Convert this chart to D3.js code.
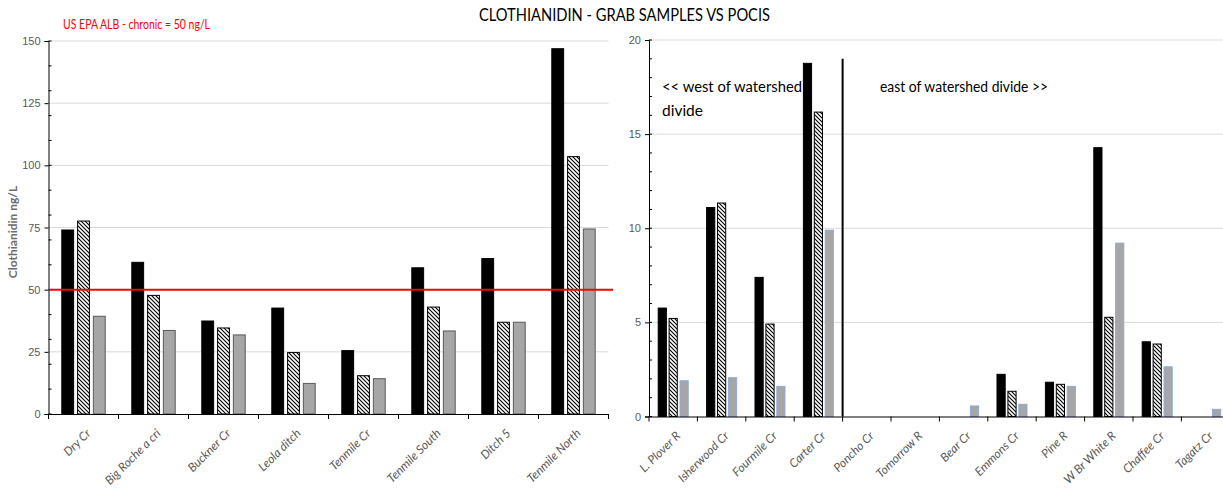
<!DOCTYPE html>
<html>
<head>
<meta charset="utf-8">
<script src="https://cdn.jsdelivr.net/npm/d3@7"></script>
<style>
  body { margin: 0; background: #fff; }
  svg { display: block; font-family: Lato, "Liberation Sans", sans-serif; }
</style>
</head>
<body>
<div id="chart"></div>
<script>
// left panel: sites (ng/L)
var leftSites = ["Dry Cr", "Big Roche a cri", "Buckner Cr", "Leola ditch", "Tenmile Cr", "Tenmile South", "Ditch 5", "Tenmile North"];
var leftGrab   = [74.0, 61.0, 37.4, 42.6, 25.5, 58.8, 62.5, 146.9];
var leftPocis1 = [77.6, 47.7, 34.6, 24.7, 15.4, 43.0, 36.9, 103.5];
var leftPocis2 = [39.3, 33.6, 31.8, 12.3, 14.2, 33.4, 36.9, 74.4];
var leftTicks  = [0, 25, 50, 75, 100, 125, 150];
var epaChronic = 50;

// right panel: sites (ng/L)
var rightSites = ["L. Plover R", "Isherwood Cr", "Fourmile Cr", "Carter Cr", "Poncho Cr", "Tomorrow R", "Bear Cr", "Emmons Cr", "Pine R", "W Br White R", "Chaffee Cr", "Tagatz Cr"];
var rightGrab   = [5.76, 11.1, 7.39, 18.76, 0, 0, 0, 2.24, 1.82, 14.28, 3.97, 0];
var rightPocis1 = [5.21, 11.34, 4.91, 16.17, 0, 0, 0, 1.34, 1.71, 5.27, 3.85, 0];
var rightPocis2 = [1.9, 2.06, 1.6, 9.9, 0, 0, 0.56, 0.65, 1.6, 9.21, 2.64, 0.38];
var rightTicks  = [0, 5, 10, 15, 20];
var divideSite = "Poncho Cr", divideTop = 19;

var W = 1223, H = 494;
var svg = d3.select("#chart").append("svg").attr("width", W).attr("height", H);

var defs = svg.append("defs");
defs.append("pattern")
    .attr("id", "hatch")
    .attr("patternUnits", "userSpaceOnUse")
    .attr("width", 4).attr("height", 4)
  .call(function(p){
    p.append("rect").attr("width", 4).attr("height", 4).attr("fill", "#fff");
    p.append("path").attr("d", "M-1,-1 L5,5 M-1,3 L1,5 M3,-1 L5,1")
     .attr("stroke", "#000").attr("stroke-width", 1.1);
  });

// narrow Calibri-like text: keep the reference widths
svg.append("text")
   .attr("x", 479).attr("y", 21)
   .attr("textLength", 291).attr("lengthAdjust", "spacingAndGlyphs")
   .style("font-size", "16.5px")
   .attr("fill", "#000")
   .text("CLOTHIANIDIN - GRAB SAMPLES VS POCIS");

function panel(cfg){
  var g = svg.append("g");
  var x = d3.scaleBand().domain(cfg.sites).range([cfg.x0, cfg.x1]);
  var y = d3.scaleLinear().domain(cfg.domain).range([cfg.y0, cfg.y1]);
  var sub = d3.scaleBand().domain([0, 1, 2])
    .range([x.bandwidth() * 0.19, x.bandwidth() * 0.81]).paddingInner(0.25);

  // gridlines
  g.selectAll(".grid").data(cfg.ticks.slice(1)).enter().append("line")
    .attr("x1", cfg.x0).attr("x2", cfg.gridEnd)
    .attr("y1", function(d){ return y(d); }).attr("y2", function(d){ return y(d); })
    .attr("stroke", "#d9d9d9").attr("stroke-width", 1);

  // bars
  var series = [
    {vals: cfg.grab,  fill: "#000",          stroke: "#000"},
    {vals: cfg.pocis1, fill: "url(#hatch)",  stroke: "#000"},
    {vals: cfg.pocis2, fill: "#a6a6a6",      stroke: cfg.grayStroke}
  ];
  series.forEach(function(s, k){
    var rows = cfg.sites.map(function(site, i){ return {site: site, v: s.vals[i]}; })
                        .filter(function(r){ return r.v > 0; });
    g.selectAll(".bar" + k).data(rows).enter().append("rect")
      .attr("x", function(r){ return x(r.site) + sub(k); })
      .attr("width", sub.bandwidth())
      .attr("y", function(r){ return y(r.v); })
      .attr("height", function(r){ return y(0) - y(r.v); })
      .attr("fill", s.fill)
      .attr("stroke", s.stroke)
      .attr("stroke-width", 1);
  });

  // y axis
  var yAxis = d3.axisLeft(y).tickValues(cfg.ticks).tickSize(4).tickPadding(4);
  var ya = g.append("g").attr("transform", "translate(" + cfg.x0 + ",0)").call(yAxis);
  ya.select(".domain").attr("stroke", "#000");
  ya.selectAll(".tick line").attr("stroke", "#000");
  ya.selectAll("text").attr("fill", "#595959").style("font-size", "11px");
  g.selectAll(".minor").data(d3.range(cfg.domain[0], cfg.domain[1] + 0.001, cfg.minor)).enter()
    .append("line")
    .attr("x1", cfg.x0).attr("x2", cfg.x0 + 3)
    .attr("y1", function(d){ return y(d); }).attr("y2", function(d){ return y(d); })
    .attr("stroke", "#000");

  // x axis
  var xAxis = d3.axisBottom(x).tickSize(0).tickFormat("");
  var xa = g.append("g").attr("transform", "translate(0," + cfg.y0 + ")").call(xAxis);
  xa.select(".domain").attr("stroke", "#000");
  g.selectAll(".xt").data(cfg.sites.concat([null])).enter().append("line")
    .attr("x1", function(d, i){ return cfg.x0 + i * x.step(); })
    .attr("x2", function(d, i){ return cfg.x0 + i * x.step(); })
    .attr("y1", cfg.y0).attr("y2", cfg.y0 + 5)
    .attr("stroke", "#000");
  g.selectAll(".xl").data(cfg.sites).enter().append("text")
    .attr("transform", function(d){
      return "translate(" + (x(d) + x.bandwidth() / 2 + 5) + "," + (cfg.y0 + 17) + ") rotate(-45)";
    })
    .attr("text-anchor", "end")
    .attr("dy", "0.35em")
    .style("font-size", "12px")
    .style("font-style", "italic")
    .attr("fill", "#595959")
    .text(function(d){ return d; });

  return {g: g, x: x, y: y};
}

var L = panel({
  sites: leftSites, grab: leftGrab, pocis1: leftPocis1, pocis2: leftPocis2,
  ticks: leftTicks, domain: [0, 150], minor: 10,
  x0: 48.5, x1: 608.5, y0: 414, y1: 41, gridEnd: 608.5, grayStroke: "#595959"
});

// EPA chronic benchmark
L.g.append("line")
  .attr("x1", 49).attr("x2", 613)
  .attr("y1", L.y(epaChronic)).attr("y2", L.y(epaChronic))
  .attr("stroke", "#ff0000").attr("stroke-width", 2);
svg.append("text")
  .attr("x", 63).attr("y", 29)
  .attr("textLength", 147).attr("lengthAdjust", "spacingAndGlyphs")
  .style("font-size", "13px")
  .attr("fill", "#ff0000")
  .text("US EPA ALB - chronic = 50 ng/L");

svg.append("text")
  .attr("transform", "translate(17,232) rotate(-90)")
  .attr("text-anchor", "middle")
  .style("font-size", "12px")
  .style("font-weight", "bold")
  .attr("fill", "#6d6d6d")
  .text("Clothianidin ng/L");

var R = panel({
  sites: rightSites, grab: rightGrab, pocis1: rightPocis1, pocis2: rightPocis2,
  ticks: rightTicks, domain: [0, 20], minor: 1,
  x0: 649, x1: 1229.8, y0: 416.5, y1: 40, gridEnd: 1223, grayStroke: "#8faadc"
});

// watershed divide
R.g.append("line")
  .attr("x1", R.x(divideSite)).attr("x2", R.x(divideSite))
  .attr("y1", R.y(divideTop)).attr("y2", R.y(0))
  .attr("stroke", "#000").attr("stroke-width", 2);

var west = svg.append("text").attr("x", 662).attr("y", 92)
  .style("font-size", "15.5px").attr("fill", "#000");
west.append("tspan").attr("textLength", 140).attr("lengthAdjust", "spacingAndGlyphs")
  .text("<< west of watershed");
west.append("tspan").attr("x", 662).attr("dy", 24).text("divide");
svg.append("text").attr("x", 880).attr("y", 92)
  .attr("textLength", 168).attr("lengthAdjust", "spacingAndGlyphs")
  .style("font-size", "15.5px").attr("fill", "#000")
  .text("east of watershed divide >>");
</script>
</body>
</html>
